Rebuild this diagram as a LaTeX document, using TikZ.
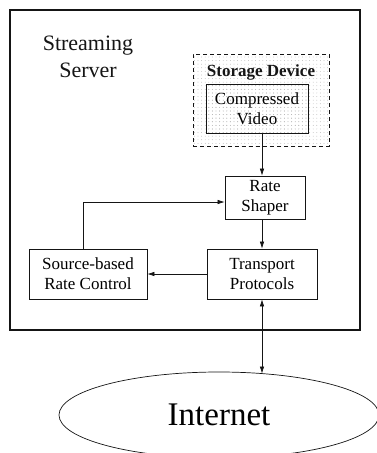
\documentclass[tikz,border=0pt]{standalone}
\usepackage{fontspec}
\setmainfont{Liberation Serif}
\usepackage{xcolor}
\usetikzlibrary{arrows.meta,shapes.geometric,patterns.meta}
\definecolor{ink}{HTML}{151515}
\definecolor{dotc}{HTML}{B4B4B4}
\tikzset{
  frame/.style={draw=ink, line width=1.1pt},
  store/.style={draw=ink, dashed, dash pattern=on 4pt off 3pt, line width=0.8pt,
    pattern={Dots[distance=3.6pt, radius=0.45pt]}, pattern color=dotc},
  blk/.style={draw=ink, line width=0.8pt, fill=white, align=center, inner sep=0pt, font=\fontsize{17}{20}\selectfont},
  dotblk/.style={blk, fill=none, pattern={Dots[distance=3.6pt, radius=0.45pt]}, pattern color=dotc},
  arr/.style={draw=ink, line width=0.6pt, -{Latex[length=7pt,width=4.5pt]}},
  arrb/.style={draw=ink, line width=0.6pt, {Latex[length=7pt,width=4.5pt]}-{Latex[length=7pt,width=4.5pt]}},
  lab/.style={text=ink, align=center},
}

\begin{document}
\begin{tikzpicture}[x=1pt,y=-1pt]
  \useasboundingbox (0,0) rectangle (377,453);
  \draw[frame] (10,10) rectangle (360,330); % server

  \node[lab, font=\fontsize{22}{27}\selectfont] (srv) at (88,57) {Streaming\\Server};

  \node[store, minimum width=136pt, minimum height=92pt] (stor) at (261,100) {};
  \node[lab, font=\fontsize{17}{20}\selectfont\bfseries] (stort) at (261,72) {Storage Device};
  \node[dotblk, minimum width=102pt, minimum height=49pt] (vid) at (257,108.5) {Compressed\\Video};

  \node[blk, minimum width=80pt, minimum height=43pt] (shp) at (265,197.5) {Rate\\Shaper};
  \node[blk, minimum width=110pt, minimum height=50pt] (trn) at (262,274) {Transport\\Protocols};
  \node[blk, minimum width=118pt, minimum height=50pt] (src) at (88,274) {Source-based\\Rate Control};

  \node[draw=ink, ellipse, line width=0.7pt, minimum width=320pt, minimum height=86pt, inner sep=0pt,
        font=\fontsize{33}{36}\selectfont] (net) at (219,415) {Internet};

  \coordinate (up) at (262,0);
  \draw[arr] (vid.south -| up) -- (shp.north -| up);
  \draw[arr] (shp.south -| up) -- (trn.north -| up);
  \draw[arr] (trn.west) -- (src.east);
  \coordinate (fb) at (83,202);
  \draw[arr] (src.north -| fb) -- (fb) -- (fb -| shp.west);
  \draw[arrb] (trn.south -| up) -- (up |- 373.5,373.5);
\end{tikzpicture}
\end{document}
